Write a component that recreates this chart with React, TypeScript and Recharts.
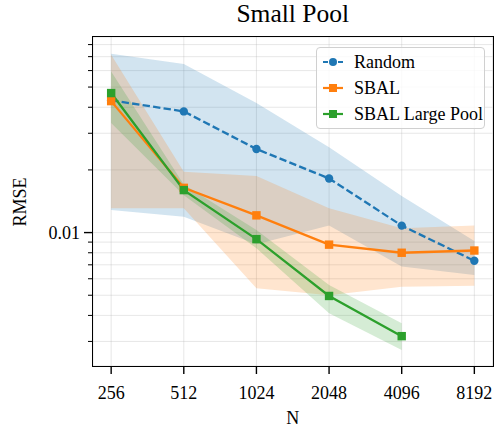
import React from 'react';
import { ComposedChart, Line, Area, XAxis, YAxis, CartesianGrid, Legend } from 'recharts';

const FONT = '"Liberation Serif", "Times New Roman", serif';
const BLUE = '#1f77b4';
const ORANGE = '#ff7f0e';
const GREEN = '#2ca02c';

// values (log-log axes)
const nValues = [256, 512, 1024, 2048, 4096, 8192];
const randomMean = [0.0432, 0.0382, 0.0252, 0.0182, 0.0108, 0.00732];
const randomLow = [0.01285, 0.0119, 0.0088, 0.0108, 0.00687, 0.00626];
const randomHigh = [0.0723, 0.0645, 0.0419, 0.0257, 0.015, 0.0091];
const sbalMean = [0.0428, 0.0164, 0.0121, 0.00875, 0.008, 0.0082];
const sbalLow = [0.0131, 0.0131, 0.0054, 0.005, 0.0055, 0.00555];
const sbalHigh = [0.0715, 0.0196, 0.0187, 0.0131, 0.0105, 0.0108];
const largeMean = [0.0468, 0.016, 0.0093, 0.00496, 0.00318];
const largeLow = [0.0336, 0.0151, 0.0084, 0.0041, 0.00273];
const largeHigh = [0.0594, 0.017, 0.0103, 0.0056, 0.00367];

const xTicks = nValues;
const yTicks = [0.003, 0.004, 0.005, 0.006, 0.007, 0.008, 0.009, 0.01, 0.02, 0.03, 0.04, 0.05, 0.06, 0.07, 0.08];
const yMajor = 0.01;

const seriesNames = ['Random', 'SBAL', 'SBAL Large Pool'];

const data = nValues.map((n, i) => ({
    n,
    random: randomMean[i],
    randomBand: [randomLow[i], randomHigh[i]],
    sbal: sbalMean[i],
    sbalBand: [sbalLow[i], sbalHigh[i]],
    large: largeMean[i],
    largeBand: largeMean[i] === undefined ? undefined : [largeLow[i], largeHigh[i]],
}));

// plot box
const W = 494;
const H = 430;
const LEFT = 93;
const TOP = 37;
const RIGHT = 1.5;
const BOTTOM = 64;

const YTick = (props: any) => {
    const { x, y, payload } = props;
    const major = Math.abs(payload.value - yMajor) < 1e-9;
    return (
        <g>
            <line x1={x - (major ? 9 : 5)} x2={x} y1={y} y2={y} stroke="#000" strokeWidth={major ? 1.4 : 1} />
            {major && (
                <text x={x - 13} y={y} dy="0.35em" textAnchor="end" fontSize={18} fontFamily={FONT} fill="#000">
                    0.01
                </text>
            )}
        </g>
    );
};

const XTick = (props: any) => {
    const { x, y, payload } = props;
    return (
        <g>
            <line x1={x} x2={x} y1={y} y2={y + 8} stroke="#000" strokeWidth={1.4} />
            <text x={x} y={y + 33} textAnchor="middle" fontSize={18} fontFamily={FONT} fill="#000">
                {payload.value}
            </text>
        </g>
    );
};

const squareDot = (color: string) => (props: any) => {
    const { cx, cy, index } = props;
    if (cx == null || cy == null) return <g key={index} />;
    return <rect key={index} x={cx - 4.2} y={cy - 4.2} width={8.4} height={8.4} fill={color} />;
};

function LegendBox() {
    const rows = [
        { name: seriesNames[0], color: BLUE, dashed: true, square: false },
        { name: seriesNames[1], color: ORANGE, dashed: false, square: true },
        { name: seriesNames[2], color: GREEN, dashed: false, square: true },
    ];
    return (
        <div
            style={{
                width: 169,
                height: 82,
                boxSizing: 'border-box',
                border: '1.5px solid #d0d0d0',
                borderRadius: 4,
                background: 'rgba(255,255,255,0.8)',
                position: 'relative',
                fontFamily: FONT,
            }}
        >
            {rows.map((r, i) => (
                <div key={r.name} style={{ position: 'absolute', left: 0, top: 1 + i * 26, height: 26, width: '100%' }}>
                    <svg width={24} height={26} style={{ position: 'absolute', left: 4, top: 0 }}>
                        <line
                            x1={2}
                            x2={22}
                            y1={13}
                            y2={13}
                            stroke={r.color}
                            strokeWidth={2.2}
                            strokeDasharray={r.dashed ? '5 3.2 3.6 3.2 5' : undefined}
                        />
                        {r.square ? (
                            <rect x={8} y={9} width={8} height={8} fill={r.color} />
                        ) : (
                            <circle cx={12} cy={13} r={4} fill={r.color} />
                        )}
                    </svg>
                    <span
                        style={{
                            position: 'absolute',
                            left: 37,
                            top: 0,
                            lineHeight: '26px',
                            fontSize: 18,
                            color: '#000',
                            whiteSpace: 'nowrap',
                        }}
                    >
                        {r.name}
                    </span>
                </div>
            ))}
        </div>
    );
}

export default function App() {
    const plotW = W - LEFT - RIGHT;
    const plotH = H - TOP - BOTTOM;
    return (
        <div style={{ position: 'absolute', left: 0, top: 0, width: W, height: H, background: '#fff' }}>
            <ComposedChart width={W} height={H} data={data} margin={{ top: TOP, right: RIGHT, left: 0, bottom: 0 }}>
                <CartesianGrid stroke="#b0b0b0" strokeOpacity={0.35} strokeWidth={0.9} />
                <XAxis
                    dataKey="n"
                    type="number"
                    scale="log"
                    domain={[Math.pow(2, 7.75), Math.pow(2, 13.25)]}
                    allowDataOverflow
                    ticks={xTicks}
                    interval={0}
                    height={BOTTOM}
                    axisLine={false}
                    tickLine={false}
                    tickSize={0}
                    tickMargin={0}
                    tick={<XTick />}
                />
                <YAxis
                    type="number"
                    scale="log"
                    domain={[0.002286, 0.087]}
                    allowDataOverflow
                    ticks={yTicks}
                    interval={0}
                    width={LEFT}
                    axisLine={false}
                    tickLine={false}
                    tickSize={0}
                    tickMargin={0}
                    tick={<YTick />}
                />
                <Area dataKey="randomBand" stroke="none" fill={BLUE} fillOpacity={0.2} isAnimationActive={false} activeDot={false} />
                <Area dataKey="sbalBand" stroke="none" fill={ORANGE} fillOpacity={0.2} isAnimationActive={false} activeDot={false} />
                <Area dataKey="largeBand" stroke="none" fill={GREEN} fillOpacity={0.2} isAnimationActive={false} activeDot={false} />
                <Line
                    dataKey="random"
                    stroke={BLUE}
                    strokeWidth={2.3}
                    strokeDasharray="7.4 3.2"
                    dot={{ r: 4.2, fill: BLUE, stroke: 'none' }}
                    activeDot={false}
                    isAnimationActive={false}
                />
                <Line
                    dataKey="sbal"
                    stroke={ORANGE}
                    strokeWidth={2.3}
                    dot={squareDot(ORANGE)}
                    activeDot={false}
                    isAnimationActive={false}
                />
                <Line
                    dataKey="large"
                    stroke={GREEN}
                    strokeWidth={2.3}
                    dot={squareDot(GREEN)}
                    activeDot={false}
                    isAnimationActive={false}
                />
                <Legend
                    layout="vertical"
                    align="center"
                    verticalAlign="middle"
                    wrapperStyle={{ left: 316, top: 47, width: 169, height: 82 }}
                    content={() => <LegendBox />}
                />
            </ComposedChart>
            {/* frame */}
            <div
                style={{
                    position: 'absolute',
                    left: LEFT - 1,
                    top: TOP - 1,
                    width: plotW + 2,
                    height: plotH + 2,
                    boxSizing: 'border-box',
                    border: '1.8px solid #000',
                    pointerEvents: 'none',
                }}
            />
            <div
                style={{
                    position: 'absolute',
                    left: LEFT,
                    width: plotW,
                    top: -1,
                    textAlign: 'center',
                    fontFamily: FONT,
                    fontSize: 25.5,
                    lineHeight: '30px',
                    color: '#000',
                }}
            >
                Small Pool
            </div>
            <div
                style={{
                    position: 'absolute',
                    left: LEFT,
                    width: plotW,
                    top: 406,
                    textAlign: 'center',
                    fontFamily: FONT,
                    fontSize: 18,
                    lineHeight: '24px',
                    color: '#000',
                }}
            >
                N
            </div>
            <div
                style={{
                    position: 'absolute',
                    left: 20 - 40,
                    top: 202 - 12,
                    width: 80,
                    height: 24,
                    lineHeight: '24px',
                    textAlign: 'center',
                    transform: 'rotate(-90deg)',
                    fontFamily: FONT,
                    fontSize: 18,
                    color: '#000',
                }}
            >
                RMSE
            </div>
        </div>
    );
}
